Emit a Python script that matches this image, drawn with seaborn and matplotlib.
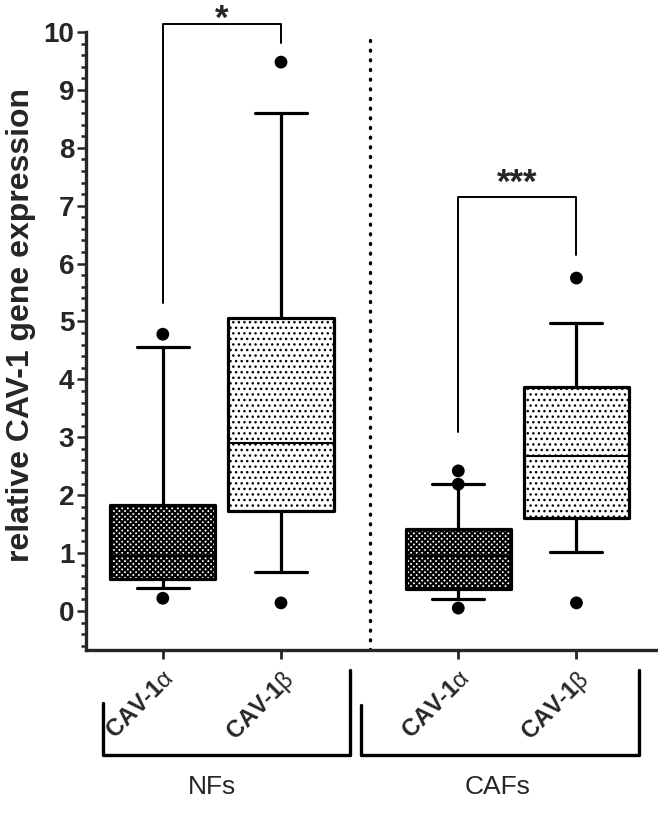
import matplotlib
matplotlib.use("Agg")
import matplotlib.pyplot as plt
import matplotlib.transforms as mtransforms
from matplotlib.ticker import MultipleLocator
import seaborn as sns
import pandas as pd

# summary values (GraphPad style box & whiskers)
groups = ["NFs", "NFs", "CAFs", "CAFs"]
tick_labels = [r"CAV-1$\mathrm{\alpha}$", r"CAV-1$\mathrm{\beta}$",
               r"CAV-1$\mathrm{\alpha}$", r"CAV-1$\mathrm{\beta}$"]
positions = [0, 1, 2.5, 3.5]
whisker_low = [0.40, 0.67, 0.21, 1.02]
q1 = [0.55, 1.73, 0.38, 1.60]
median = [0.95, 2.90, 0.95, 2.68]
q3 = [1.83, 5.06, 1.42, 3.87]
whisker_high = [4.56, 8.60, 2.19, 4.97]
outliers = [[0.22, 4.78], [0.14, 9.48], [0.05, 2.19, 2.42], [0.14, 5.75]]
hatches = ["xxxxxx", "...", "xxxxxx", "..."]
hatch_widths = [1.5, 1.0, 1.5, 1.0]

sns.set_style("ticks")
plt.rcParams["font.family"] = ["Liberation Sans", "DejaVu Sans"]
plt.rcParams["mathtext.fontset"] = "custom"
plt.rcParams["mathtext.rm"] = "Liberation Sans"
plt.rcParams["hatch.linewidth"] = 1.0

fig = plt.figure(figsize=(6.58, 8.13), dpi=100)
ax = fig.add_axes([86 / 658, 1 - 650 / 813, 572 / 658, 618 / 813])

stats = []
for i in range(len(positions)):
    stats.append({"whislo": whisker_low[i], "q1": q1[i], "med": median[i],
                  "q3": q3[i], "whishi": whisker_high[i], "fliers": []})

lw = 2.3
bp = ax.bxp(stats, positions=positions, widths=0.89, patch_artist=True,
            showfliers=False, capwidths=0.44,
            boxprops=dict(linewidth=lw, edgecolor="black", facecolor="white"),
            medianprops=dict(color="black", linewidth=1.5),
            whiskerprops=dict(color="black", linewidth=lw),
            capprops=dict(color="black", linewidth=lw))
for patch, h, hw in zip(bp["boxes"], hatches, hatch_widths):
    patch.set_hatch(h)
    patch.set_joinstyle("round")
    if hasattr(patch, "set_hatch_linewidth"):
        patch.set_hatch_linewidth(hw)

# outlier points
pts = pd.DataFrame({"x": [p for p, o in zip(positions, outliers) for _ in o],
                    "y": [v for o in outliers for v in o]})
sns.scatterplot(data=pts, x="x", y="y", color="black", s=85, edgecolor="none",
                ax=ax, zorder=5, clip_on=False, legend=False)

# separator between groups
ax.axvline(1.75, color="black", linewidth=2.4, linestyle=(0, (0.3, 2.6)),
           dash_capstyle="round")

ax.set_xlim(-0.65, 4.19)
ax.set_ylim(-0.674, 10)
ax.yaxis.set_minor_locator(MultipleLocator(0.2))
ax.set_yticks(range(0, 11))
ax.set_xticks(positions)
ax.set_xticklabels(tick_labels, rotation=45, ha="right", va="top",
                   rotation_mode="anchor", fontsize=17, fontweight="bold")
ax.tick_params(axis="y", labelsize=20, width=1.8, length=6.5, pad=2)
ax.tick_params(axis="y", which="minor", width=1.8, length=3.5)
ax.tick_params(axis="x", width=2.0, length=6.5, pad=5)
for lab in ax.get_yticklabels():
    lab.set_fontweight("bold")
ax.set_xlabel("")
ax.set_ylabel("relative CAV-1 gene expression", fontsize=23,
              fontweight="bold")
ax.yaxis.set_label_coords(-0.088, 0.526)
sns.despine(ax=ax)
ax.spines["left"].set_linewidth(2.4)
ax.spines["bottom"].set_linewidth(2.4)

# significance brackets
def sig_bracket(x1, x2, y_left, y_top, y_right, label, label_y):
    ax.plot([x1, x1, x2, x2], [y_left, y_top, y_top, y_right], color="black",
            linewidth=1.4, clip_on=False)
    ax.text((x1 + x2) / 2, label_y, label, ha="center", va="center",
            fontsize=25, fontweight="bold", clip_on=False)

sig_bracket(positions[0], positions[1], 5.32, 10.14, 9.81, "*", 10.22)
sig_bracket(positions[2], positions[3], 3.09, 7.15, 6.15, "***", 7.38)

# group brackets under the tick labels
trans = mtransforms.blended_transform_factory(ax.transData, ax.transAxes)
def group_bracket(x1, x2, y_left, y_right, name, label_x):
    ax.plot([x1, x1, x2, x2], [y_left, -0.170, -0.170, y_right],
            color="black", linewidth=2.4, transform=trans, clip_on=False)
    ax.text(label_x, -0.222, name, ha="center", va="center",
            fontsize=19, transform=trans)

group_bracket(-0.508, 1.585, -0.085, -0.032, groups[0], 0.42)
group_bracket(1.678, 4.03, -0.089, -0.032, groups[2], 2.83)

fig.savefig("out.png", dpi=100)
